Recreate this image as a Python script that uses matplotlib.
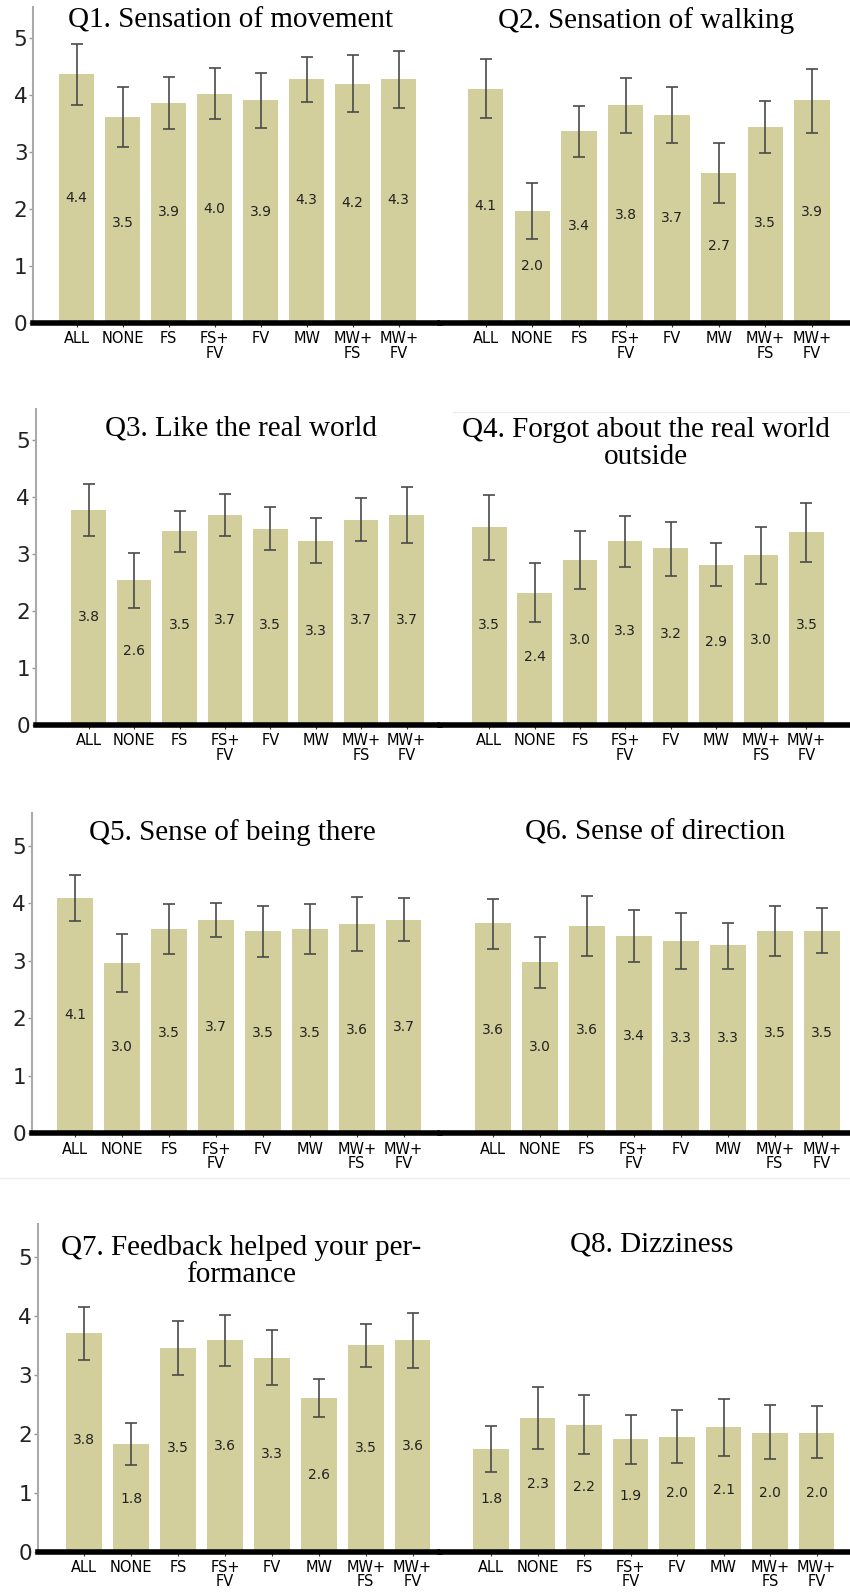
import numpy as np
import matplotlib.pyplot as plt
from matplotlib.lines import Line2D

# conditions on the x axis
conditions = ['ALL', 'NONE', 'FS', 'FS+\nFV', 'FV', 'MW', 'MW+\nFS', 'MW+\nFV']

titles = ['Q1. Sensation of movement', 'Q2. Sensation of walking',
          'Q3. Like the real world', 'Q4. Forgot about the real world\noutside',
          'Q5. Sense of being there', 'Q6. Sense of direction',
          'Q7. Feedback helped your per-\nformance', 'Q8. Dizziness']

# bar heights (as drawn)
q1 = [4.36, 3.61, 3.86, 4.02, 3.91, 4.28, 4.20, 4.28]
q2 = [4.11, 1.97, 3.36, 3.82, 3.65, 2.64, 3.44, 3.91]
q3 = [3.77, 2.54, 3.40, 3.68, 3.44, 3.23, 3.60, 3.68]
q4 = [3.47, 2.32, 2.89, 3.22, 3.10, 2.81, 2.98, 3.38]
q5 = [4.10, 2.97, 3.55, 3.71, 3.51, 3.55, 3.64, 3.71]
q6 = [3.65, 2.98, 3.61, 3.44, 3.35, 3.27, 3.52, 3.52]
q7 = [3.70, 1.83, 3.46, 3.58, 3.29, 2.61, 3.50, 3.58]
q8 = [1.74, 2.27, 2.15, 1.91, 1.94, 2.11, 2.02, 2.02]

# error bar ends (low, high)
q1_lo = [3.83, 3.09, 3.41, 3.58, 3.42, 3.87, 3.70, 3.77]
q1_hi = [4.90, 4.14, 4.31, 4.47, 4.39, 4.67, 4.70, 4.78]
q2_lo = [3.59, 1.47, 2.91, 3.34, 3.15, 2.11, 2.98, 3.34]
q2_hi = [4.63, 2.45, 3.80, 4.30, 4.14, 3.16, 3.89, 4.46]
q3_lo = [3.32, 2.06, 3.03, 3.32, 3.07, 2.84, 3.22, 3.20]
q3_hi = [4.22, 3.01, 3.76, 4.06, 3.82, 3.63, 3.99, 4.17]
q4_lo = [2.89, 1.80, 2.38, 2.77, 2.61, 2.44, 2.48, 2.86]
q4_hi = [4.03, 2.84, 3.40, 3.67, 3.57, 3.19, 3.47, 3.90]
q5_lo = [3.70, 2.45, 3.12, 3.41, 3.07, 3.12, 3.17, 3.35]
q5_hi = [4.49, 3.47, 3.98, 4.01, 3.95, 3.98, 4.11, 4.09]
q6_lo = [3.21, 2.52, 3.08, 2.98, 2.85, 2.86, 3.08, 3.13]
q6_hi = [4.08, 3.41, 4.12, 3.88, 3.84, 3.66, 3.95, 3.92]
q7_lo = [3.25, 1.47, 3.00, 3.15, 2.82, 2.28, 3.13, 3.11]
q7_hi = [4.15, 2.18, 3.91, 4.01, 3.76, 2.92, 3.86, 4.05]
q8_lo = [1.35, 1.74, 1.66, 1.49, 1.50, 1.63, 1.57, 1.58]
q8_hi = [2.13, 2.80, 2.65, 2.32, 2.40, 2.58, 2.49, 2.47]

# numbers printed inside the bars
q1_lab = [4.4, 3.5, 3.9, 4.0, 3.9, 4.3, 4.2, 4.3]
q2_lab = [4.1, 2.0, 3.4, 3.8, 3.7, 2.7, 3.5, 3.9]
q3_lab = [3.8, 2.6, 3.5, 3.7, 3.5, 3.3, 3.7, 3.7]
q4_lab = [3.5, 2.4, 3.0, 3.3, 3.2, 2.9, 3.0, 3.5]
q5_lab = [4.1, 3.0, 3.5, 3.7, 3.5, 3.5, 3.6, 3.7]
q6_lab = [3.6, 3.0, 3.6, 3.4, 3.3, 3.3, 3.5, 3.5]
q7_lab = [3.8, 1.8, 3.5, 3.6, 3.3, 2.6, 3.5, 3.6]
q8_lab = [1.8, 2.3, 2.2, 1.9, 2.0, 2.1, 2.0, 2.0]

heights = [q1, q2, q3, q4, q5, q6, q7, q8]
lows = [q1_lo, q2_lo, q3_lo, q4_lo, q5_lo, q6_lo, q7_lo, q8_lo]
highs = [q1_hi, q2_hi, q3_hi, q4_hi, q5_hi, q6_hi, q7_hi, q8_hi]
labels = [q1_lab, q2_lab, q3_lab, q4_lab, q5_lab, q6_lab, q7_lab, q8_lab]

BAR = '#D3CF9C'
W, H = 850, 1592
MID = 440  # pixel where left and right panels meet

# per row pixel layout: spine x, y of zero, px per unit, spine top,
# left first bar centre, left spacing, right first bar centre, right spacing, title y
rows = [
    (33.0, 323.0, 57.0, 7.0, 76.7, 46.0, 485.7, 46.6, 5.30),
    (35.7, 725.0, 57.0, 409.0, 88.7, 45.4, 489.3, 45.3, 5.21),
    (31.7, 1133.3, 57.5, 813.0, 75.3, 46.9, 492.7, 47.0, 5.23),
    (37.7, 1551.7, 59.0, 1224.0, 84.3, 46.9, 491.0, 46.5, 5.20),
]

fig = plt.figure(figsize=(W / 100, H / 100), dpi=100)
x = np.arange(len(conditions))

for r, (sx, y0, unit, top, lc, lsp, rc, rsp, ty) in enumerate(rows):
    for side in range(2):
        k = 2 * r + side
        if side == 0:
            px0, px1, c0, sp = sx, MID, lc, lsp
        else:
            px0, px1, c0, sp = MID, W, rc, rsp
        ax = fig.add_axes([px0 / W, 1 - y0 / H, (px1 - px0) / W, (y0 - top) / H])
        ax.set_xlim((px0 - c0) / sp, (px1 - c0) / sp)
        ax.set_ylim(0, (y0 - top) / unit)

        h = np.array(heights[k])
        yerr = [h - np.array(lows[k]), np.array(highs[k]) - h]
        ax.bar(x, h, width=0.76, color=BAR, zorder=1)
        ax.errorbar(x, h, yerr=yerr, fmt='none', ecolor='#4a4a4a',
                    elinewidth=1.2, capsize=4, capthick=1.2, zorder=2)
        for xi, v in zip(x, labels[k]):
            ax.text(xi, v / 2, f'{v:.1f}', ha='center', va='center',
                    fontsize=10, color='#222222', family='DejaVu Sans')

        nl = titles[k].count('\n') + 1
        ax.text(3.35 if side == 0 else 3.45, ty - (nl - 1) * 0.28, titles[k],
                ha='center', va='center', fontsize=21, family='Liberation Serif',
                linespacing=1.05, color='black')

        ax.set_xticks(x)
        ax.set_xticklabels(conditions, fontsize=10.5, linespacing=0.95,
                           family=['Liberation Sans Narrow', 'DejaVu Sans'])
        ax.tick_params(axis='x', length=3, width=0.8, pad=3, color='#333333')
        for s in ['top', 'right']:
            ax.spines[s].set_visible(False)
        ax.spines['bottom'].set_linewidth(4)
        ax.spines['bottom'].set_color('black')
        if side == 0:
            ax.set_yticks([0, 1, 2, 3, 4, 5])
            ax.tick_params(axis='y', length=3, width=1, color='#999999', pad=1,
                           labelsize=15.5)
            for t in ax.get_yticklabels():
                t.set_family('DejaVu Sans')
                t.set_color('#222222')
            ax.spines['left'].set_color('#aaaaaa')
            ax.spines['left'].set_linewidth(1.5)
        else:
            ax.spines['left'].set_visible(False)
            ax.set_yticks([])

# faint seams between the stacked images
for yy, xa in [(412, 453), (1178, 0)]:
    fig.add_artist(Line2D([xa / W, 1], [1 - yy / H, 1 - yy / H],
                          color='#eeeeee', lw=1))

fig.savefig('out.png', dpi=100)
